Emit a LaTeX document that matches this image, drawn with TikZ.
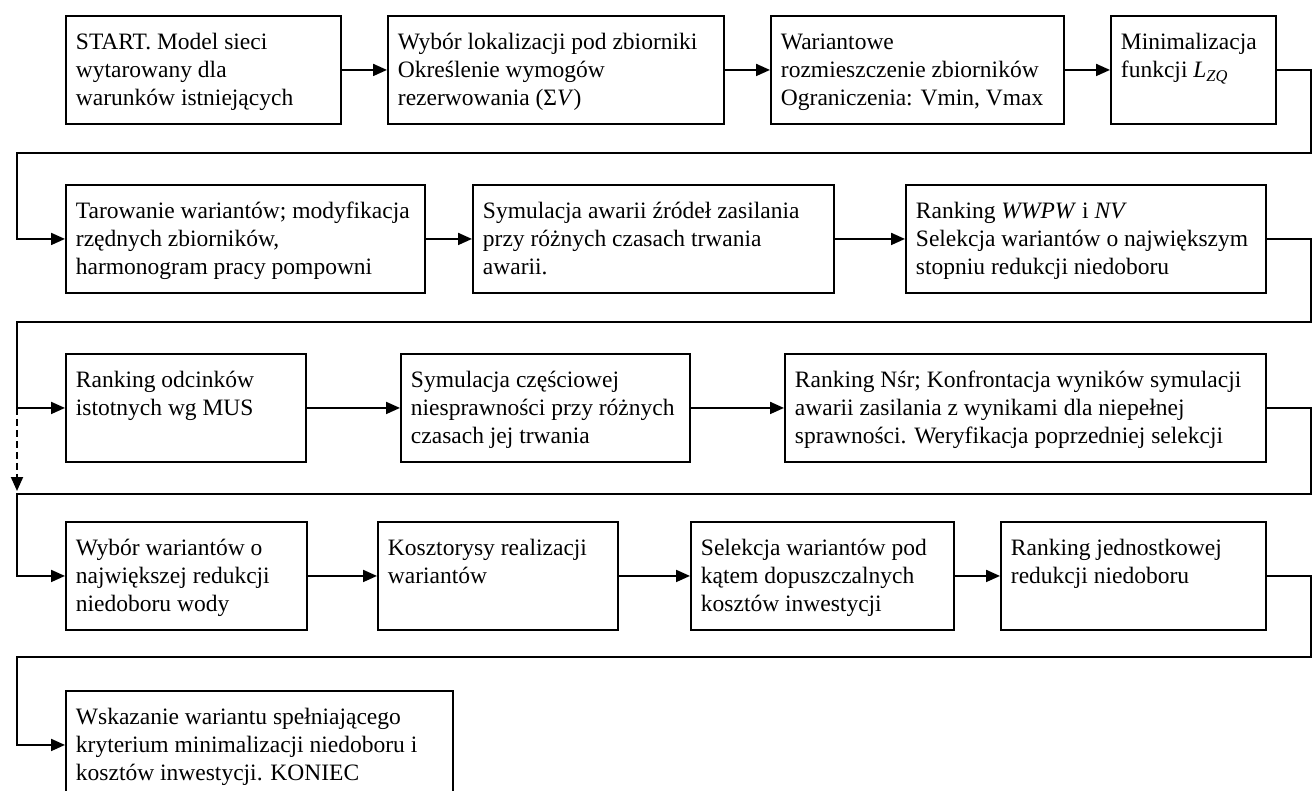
\documentclass[tikz,border=0pt]{standalone}
\usepackage{fontspec}
\setmainfont{Liberation Serif}
\usetikzlibrary{arrows.meta}

\tikzset{
  stepbox/.style={draw, line width=1.9pt, inner xsep=10pt, inner ysep=0pt,
    anchor=north west, font=\fontsize{23.5}{28}\selectfont},
  link/.style={line width=1.9pt},
  flow/.style={link, -{Triangle[length=14pt,width=12pt]}},
}

% \stepnode{name}{x}{y}{width}{height}{text}: a process box with its text set top left
\newcommand{\stepnode}[6]{%
  \node[stepbox] (#1) at (#2,#3)
    {\parbox[c][#5pt][t]{\dimexpr#4pt-20pt\relax}{\raggedright\rule{0pt}{34pt}#6}};}

\begin{document}
\begin{tikzpicture}[x=1pt,y=-1pt]
\useasboundingbox (0,0) rectangle (1313,790);
\clip (0,0) rectangle (1313,790);

% row 1
\stepnode{A}{65}{15}{275}{108}{START. Model sieci\\wytarowany dla\\warunków istniejących}
\stepnode{B}{387}{15}{336}{108}{Wybór lokalizacji pod zbiorniki\\Określenie wymogów\\rezerwowania (Σ\textit{V})}
\stepnode{C}{770}{15}{293}{108}{Wariantowe\\rozmieszczenie zbiorników\\Ograniczenia: Vmin, Vmax}
\stepnode{D}{1110}{15}{165}{108}{Minimalizacja\\funkcji \textit{L}\textsubscript{\textit{ZQ}}}

% row 2
\stepnode{E}{65}{184}{359}{108}{Tarowanie wariantów; modyfikacja\\rzędnych zbiorników,\\harmonogram pracy pompowni}
\stepnode{F}{472}{184}{361}{108}{Symulacja awarii źródeł zasilania\\przy różnych czasach trwania\\awarii.}
\stepnode{G}{905}{184}{360}{108}{Ranking \textit{WWPW} i \textit{NV}\\Selekcja wariantów o największym\\stopniu redukcji niedoboru}

% row 3
\stepnode{H}{65}{353}{240}{108}{Ranking odcinków\\istotnych wg MUS}
\stepnode{I}{400}{353}{289}{108}{Symulacja częściowej\\niesprawności przy różnych\\czasach jej trwania}
\stepnode{J}{784}{353}{481}{108}{Ranking Nśr; Konfrontacja wyników symulacji\\awarii zasilania z wynikami dla niepełnej\\sprawności. Weryfikacja poprzedniej selekcji}

% row 4
\stepnode{K}{65}{521}{241}{108}{Wybór wariantów o\\największej redukcji\\niedoboru wody}
\stepnode{L}{377}{521}{240}{108}{Kosztorysy realizacji\\wariantów}
\stepnode{M}{690}{521}{263}{108}{Selekcja wariantów pod\\kątem dopuszczalnych\\kosztów inwestycji}
\stepnode{N}{1000}{521}{265}{108}{Ranking jednostkowej\\redukcji niedoboru}

% row 5
\stepnode{O}{65}{690}{387}{108}{Wskazanie wariantu spełniającego\\kryterium minimalizacji niedoboru i\\kosztów inwestycji. KONIEC}

% return lines between rows
\coordinate (rx) at (1311,0);
\coordinate (t1) at (17,153);
\coordinate (t2) at (17,322);
\coordinate (t3) at (17,494);
\coordinate (t4) at (17,657);

% arrows within rows
\draw[flow] (A.east) -- (B.west);
\draw[flow] (B.east) -- (C.west);
\draw[flow] (C.east) -- (D.west);
\draw[flow] (E.east) -- (F.west);
\draw[flow] (F.east) -- (G.west);
\draw[flow] (H.east) -- (I.west);
\draw[flow] (I.east) -- (J.west);
\draw[flow] (K.east) -- (L.west);
\draw[flow] (L.east) -- (M.west);
\draw[flow] (M.east) -- (N.west);

% arrows from one row to the next
\draw[flow] (D.east) -| (rx |- t1) -- (t1) |- (E.west);
\draw[flow] (G.east) -| (rx |- t2) -- (t2) |- (H.west);
\draw[flow] (J.east) -| (rx |- t3) -- (t3) |- (K.west);
\draw[flow] (N.east) -| (rx |- t4) -- (t4) |- (O.west);

% optional skip of the partial-failure branch
\draw[flow, dash pattern=on 7pt off 4pt, shorten >=3pt] (H.west -| t2) -- (t3);
\end{tikzpicture}
\end{document}
